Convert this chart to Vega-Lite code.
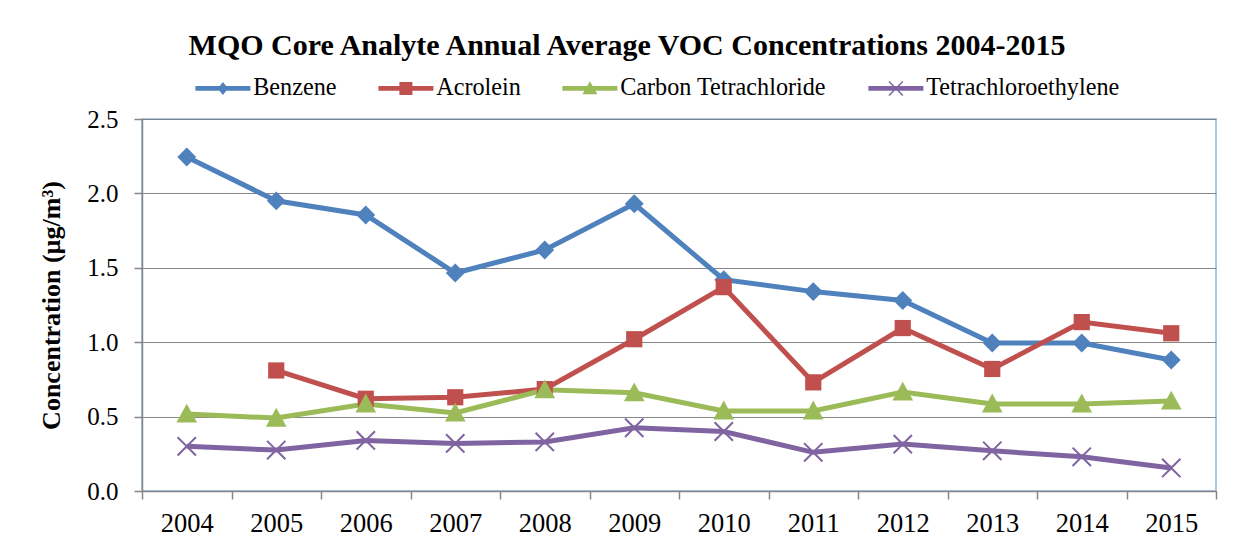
{
  "$schema": "https://vega.github.io/schema/vega-lite/v6.json",
  "width": 1074,
  "height": 372,
  "autosize": {"type": "none"},
  "padding": {"left": 142, "top": 119, "right": 25, "bottom": 51},
  "background": "white",
  "title": {"text": "MQO Core Analyte Annual Average VOC Concentrations 2004-2015", "font": "Times New Roman, Liberation Serif, serif", "fontSize": 30, "fontWeight": "bold", "color": "black", "anchor": "middle", "dx": -52, "offset": 15},
  "data": {"values": [
    {"year": "2004", "series": "Benzene", "value": 2.245},
    {"year": "2005", "series": "Benzene", "value": 1.95},
    {"year": "2006", "series": "Benzene", "value": 1.855},
    {"year": "2007", "series": "Benzene", "value": 1.465},
    {"year": "2008", "series": "Benzene", "value": 1.62},
    {"year": "2009", "series": "Benzene", "value": 1.93},
    {"year": "2010", "series": "Benzene", "value": 1.42},
    {"year": "2011", "series": "Benzene", "value": 1.34},
    {"year": "2012", "series": "Benzene", "value": 1.28},
    {"year": "2013", "series": "Benzene", "value": 0.995},
    {"year": "2014", "series": "Benzene", "value": 0.995},
    {"year": "2015", "series": "Benzene", "value": 0.88},
    {"year": "2005", "series": "Acrolein", "value": 0.81},
    {"year": "2006", "series": "Acrolein", "value": 0.62},
    {"year": "2007", "series": "Acrolein", "value": 0.63},
    {"year": "2008", "series": "Acrolein", "value": 0.685},
    {"year": "2009", "series": "Acrolein", "value": 1.02},
    {"year": "2010", "series": "Acrolein", "value": 1.37},
    {"year": "2011", "series": "Acrolein", "value": 0.73},
    {"year": "2012", "series": "Acrolein", "value": 1.095},
    {"year": "2013", "series": "Acrolein", "value": 0.82},
    {"year": "2014", "series": "Acrolein", "value": 1.135},
    {"year": "2015", "series": "Acrolein", "value": 1.06},
    {"year": "2004", "series": "Carbon Tetrachloride", "value": 0.517},
    {"year": "2005", "series": "Carbon Tetrachloride", "value": 0.49},
    {"year": "2006", "series": "Carbon Tetrachloride", "value": 0.585},
    {"year": "2007", "series": "Carbon Tetrachloride", "value": 0.524},
    {"year": "2008", "series": "Carbon Tetrachloride", "value": 0.68},
    {"year": "2009", "series": "Carbon Tetrachloride", "value": 0.66},
    {"year": "2010", "series": "Carbon Tetrachloride", "value": 0.538},
    {"year": "2011", "series": "Carbon Tetrachloride", "value": 0.538},
    {"year": "2012", "series": "Carbon Tetrachloride", "value": 0.665},
    {"year": "2013", "series": "Carbon Tetrachloride", "value": 0.585},
    {"year": "2014", "series": "Carbon Tetrachloride", "value": 0.585},
    {"year": "2015", "series": "Carbon Tetrachloride", "value": 0.605},
    {"year": "2004", "series": "Tetrachloroethylene", "value": 0.30},
    {"year": "2005", "series": "Tetrachloroethylene", "value": 0.275},
    {"year": "2006", "series": "Tetrachloroethylene", "value": 0.34},
    {"year": "2007", "series": "Tetrachloroethylene", "value": 0.32},
    {"year": "2008", "series": "Tetrachloroethylene", "value": 0.33},
    {"year": "2009", "series": "Tetrachloroethylene", "value": 0.425},
    {"year": "2010", "series": "Tetrachloroethylene", "value": 0.40},
    {"year": "2011", "series": "Tetrachloroethylene", "value": 0.26},
    {"year": "2012", "series": "Tetrachloroethylene", "value": 0.315},
    {"year": "2013", "series": "Tetrachloroethylene", "value": 0.27},
    {"year": "2014", "series": "Tetrachloroethylene", "value": 0.23},
    {"year": "2015", "series": "Tetrachloroethylene", "value": 0.155}
  ]},
  "encoding": {
    "x": {
      "field": "year", "type": "ordinal", "bandPosition": 0.5,
      "scale": {"type": "band", "paddingInner": 0, "paddingOuter": 0},
      "axis": {"title": null, "labelAngle": 0, "grid": false, "tickBand": "extent", "tickSize": 8, "tickColor": "#868686", "tickWidth": 1.5, "domainColor": "#868686", "domainWidth": 1.5, "labelFont": "Liberation Serif", "labelFontSize": 26.5, "labelColor": "black", "labelPadding": 11}
    },
    "y": {
      "field": "value", "type": "quantitative",
      "scale": {"domain": [0, 2.5], "nice": false},
      "axis": {"values": [0, 0.5, 1, 1.5, 2, 2.5], "format": ".1f", "grid": true, "gridColor": "#868686", "gridWidth": 1, "tickSize": 8, "tickColor": "#868686", "tickWidth": 1.5, "domainColor": "#868686", "domainWidth": 1.5, "labelFont": "Liberation Serif", "labelFontSize": 25, "labelColor": "black", "labelPadding": 16, "title": "Concentration (µg/m³)", "titleFont": "Times New Roman, Liberation Serif, serif", "titleFontSize": 26, "titleFontWeight": "bold", "titleColor": "black", "titlePadding": 22}
    },
    "color": {
      "field": "series", "type": "nominal",
      "scale": {"domain": ["Benzene", "Acrolein", "Carbon Tetrachloride", "Tetrachloroethylene"], "range": ["#4F81BD", "#C0504D", "#9BBB59", "#8064A2"]},
      "legend": {
        "orient": "none", "legendX": 48, "legendY": -43, "direction": "horizontal", "title": null,
        "labelFont": "Liberation Serif", "labelFontSize": 24.2, "labelColor": "black", "labelLimit": 400,
        "symbolSize": 169, "labelOffset": 39, "columnPadding": 36, "symbolOpacity": 1, "symbolStrokeWidth": 0,
        "encode": {"symbols": {"update": {"strokeWidth": {"value": 0}, "opacity": {"value": 1}}}}
      }
    }
  },
  "layer": [
    {"mark": {"type": "line", "strokeWidth": 5}},
    {
      "mark": {"type": "point", "filled": true, "opacity": 0, "size": 10},
      "encoding": {
        "shape": {
          "field": "series", "type": "nominal",
          "scale": {"domain": ["Benzene", "Acrolein", "Carbon Tetrachloride", "Tetrachloroethylene"], "range": [
            "M-1.03,-0.36L7.43,-0.36L7.43,0.36L-1.03,0.36ZM3.2,-1L4,0L3.2,1L2.4,0Z",
            "M-1.03,-0.36L7.43,-0.36L7.43,0.36L-1.03,0.36ZM2.2,-1L4.2,-1L4.2,1L2.2,1Z",
            "M-1.03,-0.36L7.43,-0.36L7.43,0.36L-1.03,0.36ZM3.2,-1.1L4.35,0.9L2.05,0.9Z",
            "M-1.03,-0.36L7.43,-0.36L7.43,0.36L-1.03,0.36ZM2.05,-0.99L2.21,-1.15L3.2,-0.16L4.19,-1.15L4.35,-0.99L3.36,0L4.35,0.99L4.19,1.15L3.2,0.16L2.21,1.15L2.05,0.99L3.04,0Z"
          ]}
        }
      }
    },
    {
      "transform": [{"filter": "datum.series === 'Benzene'"}],
      "mark": {"type": "point", "filled": true, "size": 324, "opacity": 1, "shape": "M0,-1.05L1.05,0L0,1.05L-1.05,0Z"},
      "encoding": {"color": {"field": "series", "type": "nominal", "legend": null}}
    },
    {
      "transform": [{"filter": "datum.series === 'Acrolein'"}],
      "mark": {"type": "point", "filled": true, "size": 324, "opacity": 1, "shape": "M-0.9,-0.9L0.9,-0.9L0.9,0.9L-0.9,0.9Z"},
      "encoding": {"color": {"field": "series", "type": "nominal", "legend": null}}
    },
    {
      "transform": [{"filter": "datum.series === 'Carbon Tetrachloride'"}],
      "mark": {"type": "point", "filled": true, "size": 324, "opacity": 1, "shape": "M0,-1.15L1.15,0.95L-1.15,0.95Z"},
      "encoding": {"color": {"field": "series", "type": "nominal", "legend": null}}
    },
    {
      "transform": [{"filter": "datum.series === 'Tetrachloroethylene'"}],
      "mark": {"type": "point", "filled": true, "size": 324, "opacity": 1, "shape": "M-1.1,-0.94L-0.94,-1.1L0,-0.16L0.94,-1.1L1.1,-0.94L0.16,0L1.1,0.94L0.94,1.1L0,0.16L-0.94,1.1L-1.1,0.94L-0.16,0Z"},
      "encoding": {"color": {"field": "series", "type": "nominal", "legend": null}}
    }
  ],
  "config": {
    "view": {"stroke": "#8EB4E3", "strokeWidth": 1.5}
  }
}
